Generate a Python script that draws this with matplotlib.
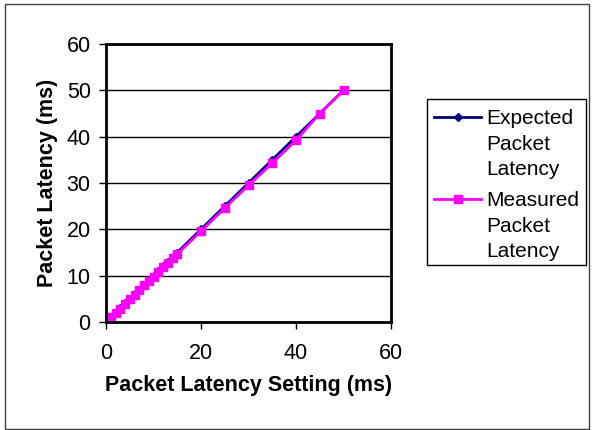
import matplotlib
matplotlib.use("Agg")
import matplotlib.pyplot as plt
from matplotlib.patches import Rectangle
from matplotlib.lines import Line2D

plt.rcParams['font.family'] = ['Liberation Sans', 'DejaVu Sans']

# latency setting (ms)
setting = [1, 2, 3, 4, 5, 6, 7, 8, 9, 10, 11, 12, 13, 14, 15, 20, 25, 30, 35, 40, 45, 50]
expected = [1, 2, 3, 4, 5, 6, 7, 8, 9, 10, 11, 12, 13, 14, 15, 20, 25, 30, 35, 40, 45, 50]
measured = [1.0, 1.9, 2.9, 3.9, 4.9, 5.9, 6.9, 7.9, 8.9, 9.8, 10.8, 11.8, 12.8, 13.8, 14.7,
            19.6, 24.6, 29.5, 34.3, 39.2, 45.0, 50.0]
series_names = ['Expected\nPacket\nLatency', 'Measured\nPacket\nLatency']

W, H = 593, 430
fig = plt.figure(figsize=(W / 100, H / 100), dpi=100)
fig.patches.append(Rectangle((5/W, 1/H), 584/W, 425/H, transform=fig.transFigure,
                             fill=False, edgecolor='#404040', linewidth=1.0))

ax = fig.add_axes([106/W, 1 - 322/H, 285/W, 278/H])
l1, = ax.plot(setting, expected, color='#000080', marker='D', markersize=4, linewidth=2)
l2, = ax.plot(setting, measured, color='#ff00ff', marker='s', markersize=6, linewidth=2)

ax.set_xlim(0, 60)
ax.set_ylim(0, 60)
ax.set_xticks([0, 20, 40, 60])
ax.set_yticks([0, 10, 20, 30, 40, 50, 60])
ax.yaxis.grid(True, color='black', linewidth=1)
ax.set_axisbelow(True)
for s in ax.spines.values():
    s.set_linewidth(2)
ax.tick_params(labelsize=15.5, length=5, width=1, direction='out')
ax.tick_params(axis='x', pad=10)
ax.tick_params(axis='y', pad=6)
ax.set_xlabel('Packet Latency Setting (ms)', fontsize=15.5, fontweight='bold', labelpad=8)
ax.set_ylabel('Packet Latency (ms)', fontsize=15.5, fontweight='bold', labelpad=6)

# legend drawn by hand so the multi-line labels get the wider line spacing
fig.patches.append(Rectangle((427/W, 1 - 265/H), 159/W, 166/H, transform=fig.transFigure,
                             fill=False, edgecolor='black', linewidth=1.0))
for line, name, yc in zip([l1, l2], series_names, [117, 199]):
    fig.lines.append(Line2D([434/W, 481/W], [1 - yc/H, 1 - yc/H], transform=fig.transFigure,
                            color=line.get_color(), linewidth=2))
    fig.lines.append(Line2D([457.5/W], [1 - yc/H], transform=fig.transFigure,
                            color=line.get_color(), marker=line.get_marker(),
                            markersize=line.get_markersize(), linestyle='none'))
    fig.text(486/W, 1 - (yc + 27)/H, name, fontsize=15, va='center', ha='left',
             linespacing=1.42)

fig.savefig('out.png', dpi=100)
